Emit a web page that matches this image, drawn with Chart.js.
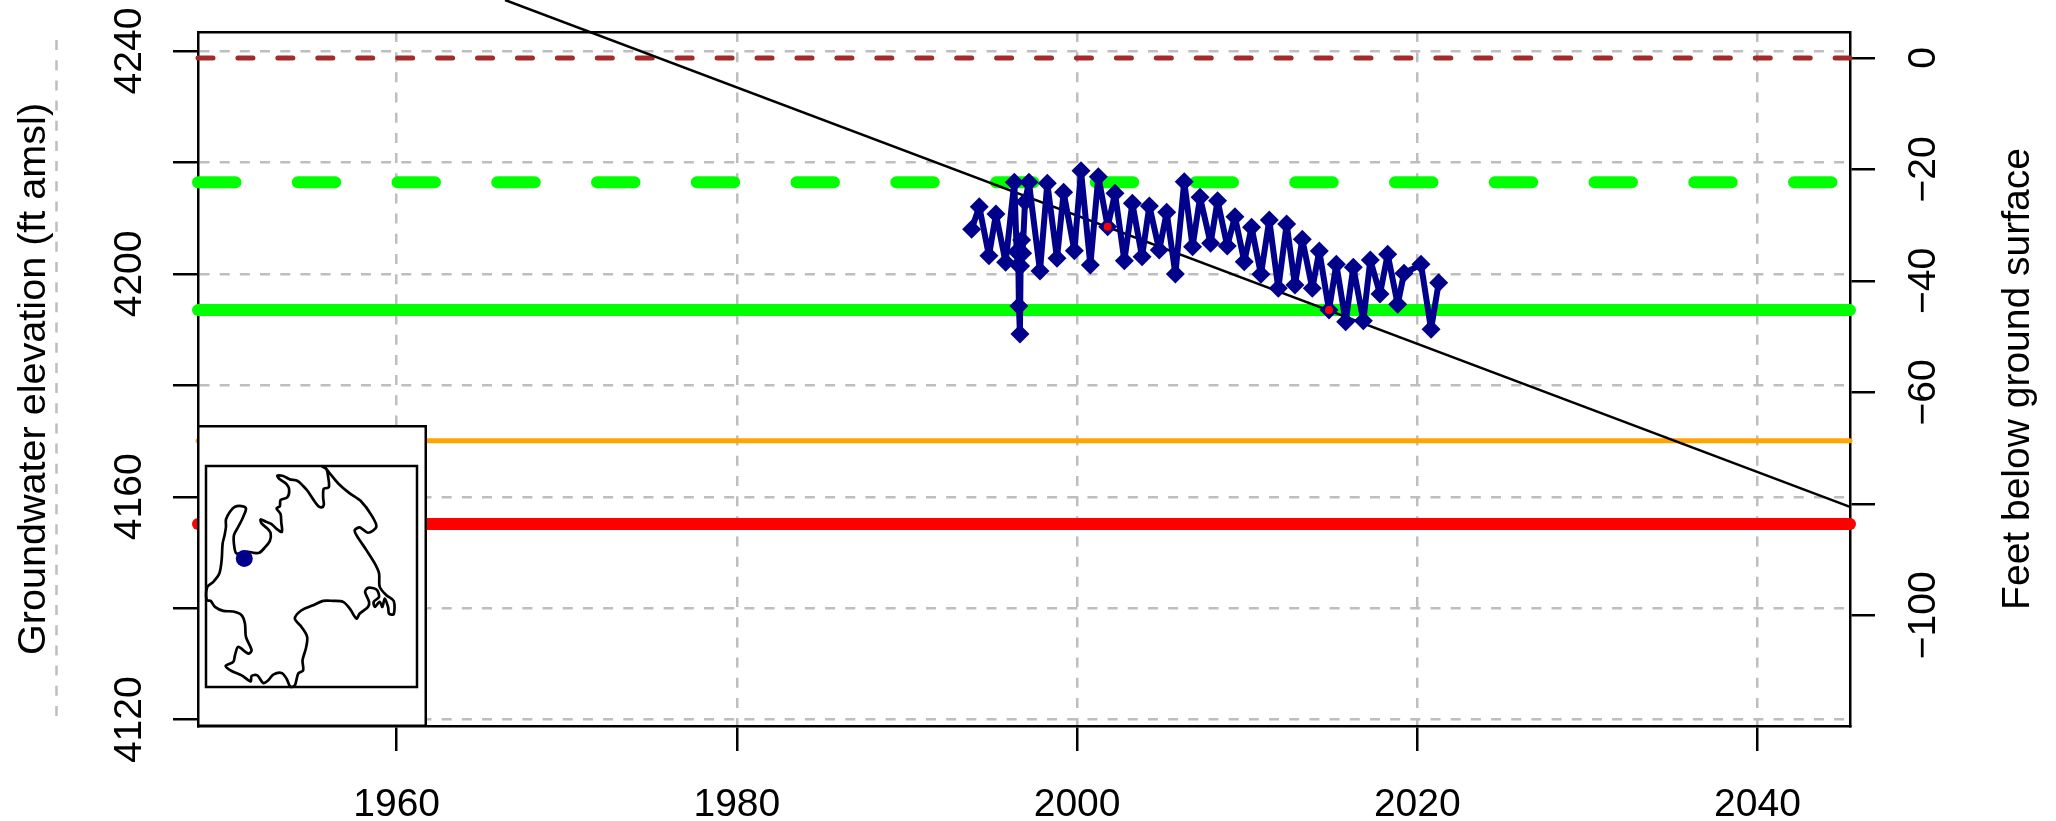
<!DOCTYPE html>
<html><head><meta charset="utf-8">
<script src="https://cdn.jsdelivr.net/npm/chart.js@4"></script>
<style>
html,body{margin:0;padding:0;background:#fff;overflow:hidden}
#wrap{position:relative;width:2056px;height:821px}
canvas{position:absolute;display:block}
#main{left:0;top:0}
#inset{left:197px;top:425px}
</style></head><body>
<div id="wrap">
<canvas id="main" width="2056" height="821"></canvas>
<canvas id="inset" width="230" height="302"></canvas>
</div>
<script>
const years = [1993.80,1994.25,1994.82,1995.23,1995.80,1996.31,1996.45,1996.55,1996.58,1996.64,1996.68,1996.74,1996.80,1996.94,1997.17,1997.82,1998.25,1998.82,1999.21,1999.84,2000.23,2000.78,2001.25,2001.80,2002.23,2002.78,2003.25,2003.82,2004.25,2004.83,2005.27,2005.78,2006.30,2006.79,2007.23,2007.85,2008.26,2008.83,2009.28,2009.83,2010.26,2010.81,2011.30,2011.83,2012.32,2012.81,2013.24,2013.83,2014.24,2014.81,2015.24,2015.79,2016.24,2016.83,2017.24,2017.81,2018.26,2018.85,2019.22,2020.22,2020.81,2021.26];
const levels = [4208.0,4212.06,4203.27,4210.75,4202.08,4216.43,4203.99,4201.6,4194.24,4189.22,4201.42,4206.08,4203.69,4212.96,4216.43,4200.52,4216.25,4202.79,4214.64,4204.17,4218.52,4201.6,4217.45,4208.47,4214.46,4202.37,4212.66,4203.09,4212.18,4204.29,4211.05,4199.98,4216.55,4204.89,4213.74,4205.48,4213.14,4205.0,4210.27,4202.2,4208.36,4199.92,4209.67,4197.41,4208.95,4198.01,4206.2,4197.41,4204.11,4193.52,4201.72,4191.43,4201.18,4191.61,4202.49,4196.39,4203.51,4194.54,4200.1,4201.72,4190.05,4198.43];
const trendYears = [2001.80,2014.81];
const trendLevels = [4208.47,4193.52];
const trendLineYears = [1966.37,2045.44];
const trendLineLevels = [4249.15,4158.2];
const groundLevel = 4238.74;
const dashedGreenLevel = 4216.44;
const solidGreenLevel = 4193.5;
const orangeLevel = 4170.07;
const redLevel = 4155.12;
const xMin = 1948.32, xMax = 2045.44;
const yMin = 4118.87, yMax = 4243.41;
const xTicks = [1960,1980,2000,2020,2040];
const yTicks = [4120,4140,4160,4180,4200,4220,4240];
const depthTicks = [0,-20,-40,-60,-80,-100];
const yLabelled = [4120,4160,4200,4240];
const depthLabelled = [0,-20,-40,-60,-100];
const marginGridYear = 1940;
const marginGridTop = 4241.97;
const mapX = [347,362,367,369,354,352,354,347,337,322,307,292,274,252,232,214,222,242,250,244,224,222,212,224,226,228,214,197,180,164,167,184,194,192,177,160,142,127,92,85,84,97,112,120,107,87,72,60,60,56,50,47,40,22,4,2,14,27,52,82,107,117,120,137,127,97,87,82,59,77,107,134,137,154,172,187,202,227,242,254,267,277,292,290,300,304,287,267,287,322,352,382,412,432,452,462,487,490,478,487,512,520,504,507,522,530,537,547,550,564,564,542,522,520,507,482,452,447,462,487,512,497,467,432,402,372,357,347];
const mapY = [662,652,630,598,594,568,545,538,542,562,585,602,618,622,632,633,622,608,590,568,560,542,535,518,495,465,472,488,495,502,490,475,462,438,418,402,402,405,400,420,455,480,510,535,542,540,525,502,480,455,430,380,340,315,300,260,258,240,228,226,215,190,150,110,100,120,95,75,63,48,35,17,33,35,12,20,37,42,25,0,5,40,50,80,115,150,180,205,230,245,258,258,255,235,205,220,240,255,285,297,292,270,255,240,255,240,265,240,220,218,258,275,300,340,370,410,455,470,478,462,480,515,555,580,605,640,658,662];
const siteX = [115], siteY = [385];

const FONT = 'Liberation Sans';
const NAVY = '#00008b', GREY = '#bebebe';
const zip = (a,b)=>a.map((v,i)=>({x:v,y:b[i]}));
const hline = (v,color,width,dash,order)=>({type:'line',data:[{x:xMin,y:v},{x:xMax,y:v}],borderColor:color,borderWidth:width,borderDash:dash,borderCapStyle:'round',pointRadius:0,clip:false,order,fill:false});

const extras = {
  id:'extras',
  beforeDatasetsDraw(c){
    const ctx=c.ctx, x=c.scales.x.getPixelForValue(marginGridYear);
    ctx.save();ctx.strokeStyle=GREY;ctx.lineWidth=2.5;ctx.setLineDash([10,10.18]);
    ctx.beginPath();ctx.moveTo(x,c.scales.y.getPixelForValue(marginGridTop));ctx.lineTo(x,c.scales.y.getPixelForValue(yMin));ctx.stroke();ctx.restore();
  },
  afterDraw(c){
    const ctx=c.ctx;
    ctx.save();ctx.fillStyle='#000';ctx.font='39px "'+FONT+'"';ctx.textAlign='center';ctx.textBaseline='middle';
    ctx.translate(2018,(c.chartArea.top+c.chartArea.bottom)/2);ctx.rotate(-Math.PI/2);
    ctx.fillText('Feet below ground surface',0,0);ctx.restore();
  }
};
const tickGrid={color:GREY,lineWidth:2.5,tickColor:'#000',tickWidth:2.5,tickLength:25,tickBorderDash:[]};
const font={family:FONT,size:39};

new Chart(document.getElementById('main'),{
  type:'scatter',
  plugins:[extras],
  data:{datasets:[
    {type:'scatter',data:zip(trendYears,trendLevels),backgroundColor:'#ff0000',borderWidth:0,pointRadius:4,pointStyle:'circle',order:0},
    {type:'line',data:zip(years,levels),borderColor:NAVY,borderWidth:6,borderJoinStyle:'round',backgroundColor:NAVY,pointBackgroundColor:NAVY,pointBorderWidth:0,pointStyle:'rectRot',pointRadius:9.5,tension:0,order:1,fill:false},
    {type:'line',data:zip(trendLineYears,trendLineLevels),borderColor:'#000',borderWidth:2.5,pointRadius:0,clip:false,order:2,fill:false},
    hline(redLevel,'#ff0000',12,[],3),
    hline(orangeLevel,'#ffa500',5,[],4),
    hline(solidGreenLevel,'#00ff00',12,[],5),
    hline(dashedGreenLevel,'#00ff00',12,[37.5,62.25],6),
    hline(groundLevel,'#a52a2a',5,[15,24.93],7)
  ]},
  options:{
    responsive:false,animation:false,
    layout:{padding:0},
    plugins:{legend:{display:false},tooltip:{enabled:false},title:{display:false}},
    scales:{
      x:{type:'linear',position:'bottom',min:xMin,max:xMax,
        afterBuildTicks:s=>{s.ticks=xTicks.map(v=>({value:v}))},
        afterFit:s=>{s.height=95},
        grid:tickGrid,border:{display:true,color:'#000',width:2.5,dash:[10,10.18]},
        ticks:{autoSkip:false,maxRotation:0,minRotation:0,padding:31,color:'#000',font,callback:v=>String(v)}},
      xTop:{type:'linear',position:'top',min:xMin,max:xMax,
        afterBuildTicks:s=>{s.ticks=[]},
        afterFit:s=>{s.height=32},
        grid:{drawOnChartArea:false,drawTicks:false},border:{display:true,color:'#000',width:2.5},
        ticks:{display:false}},
      y:{type:'linear',position:'left',min:yMin,max:yMax,
        afterBuildTicks:s=>{s.ticks=yTicks.map(v=>({value:v}))},
        afterFit:s=>{s.width=198},
        grid:tickGrid,border:{display:true,color:'#000',width:2.5,dash:[10,10.18]},
        title:{display:true,text:'Groundwater elevation (ft amsl)',color:'#000',font:{family:FONT,size:39.6},padding:{top:10,bottom:0}},
        ticks:{autoSkip:false,minRotation:90,maxRotation:90,crossAlign:'center',padding:-1,color:'#000',font,
          callback:v=>yLabelled.includes(v)?String(v):''}},
      y2:{type:'linear',position:'right',min:yMin-groundLevel,max:yMax-groundLevel,
        afterBuildTicks:s=>{s.ticks=depthTicks.map(v=>({value:v}))},
        afterFit:s=>{s.width=206},
        grid:{drawOnChartArea:false,color:'#000',lineWidth:2.5,tickColor:'#000',tickWidth:2.5,tickLength:25},
        border:{display:true,color:'#000',width:2.5},
        ticks:{autoSkip:false,minRotation:90,maxRotation:90,crossAlign:'center',padding:5,color:'#000',font,
          callback:v=>depthLabelled.includes(v)?String(v).replace('-','\u2212'):''}}
    }
  }
});

const insetFrame={
  id:'insetFrame',
  beforeDraw(c){
    const ctx=c.ctx,a=c.chartArea;
    ctx.save();ctx.fillStyle='#fff';ctx.fillRect(0,0,c.width,c.height);
    ctx.strokeStyle='#000';ctx.lineWidth=2.5;
    ctx.strokeRect(1.25,1.25,c.width-2.5,c.height-2.5);
    ctx.strokeRect(a.left,a.top,a.right-a.left,a.bottom-a.top);
    ctx.restore();
  }
};
new Chart(document.getElementById('inset'),{
  type:'scatter',
  plugins:[insetFrame],
  data:{datasets:[
    {type:'scatter',data:zip(siteX,siteY),backgroundColor:NAVY,borderWidth:0,pointRadius:8.5,order:0},
    {type:'line',data:zip(mapX,mapY),borderColor:'#000',borderWidth:2.7,borderJoinStyle:'round',pointRadius:0,tension:0.3,fill:false,clip:false,order:1}
  ]},
  options:{
    responsive:false,animation:false,
    layout:{padding:{left:9,right:10,top:41,bottom:40}},
    plugins:{legend:{display:false},tooltip:{enabled:false}},
    scales:{x:{type:'linear',display:false,min:0,max:634},y:{type:'linear',display:false,min:0,max:662}}
  }
});
</script>
</body></html>
